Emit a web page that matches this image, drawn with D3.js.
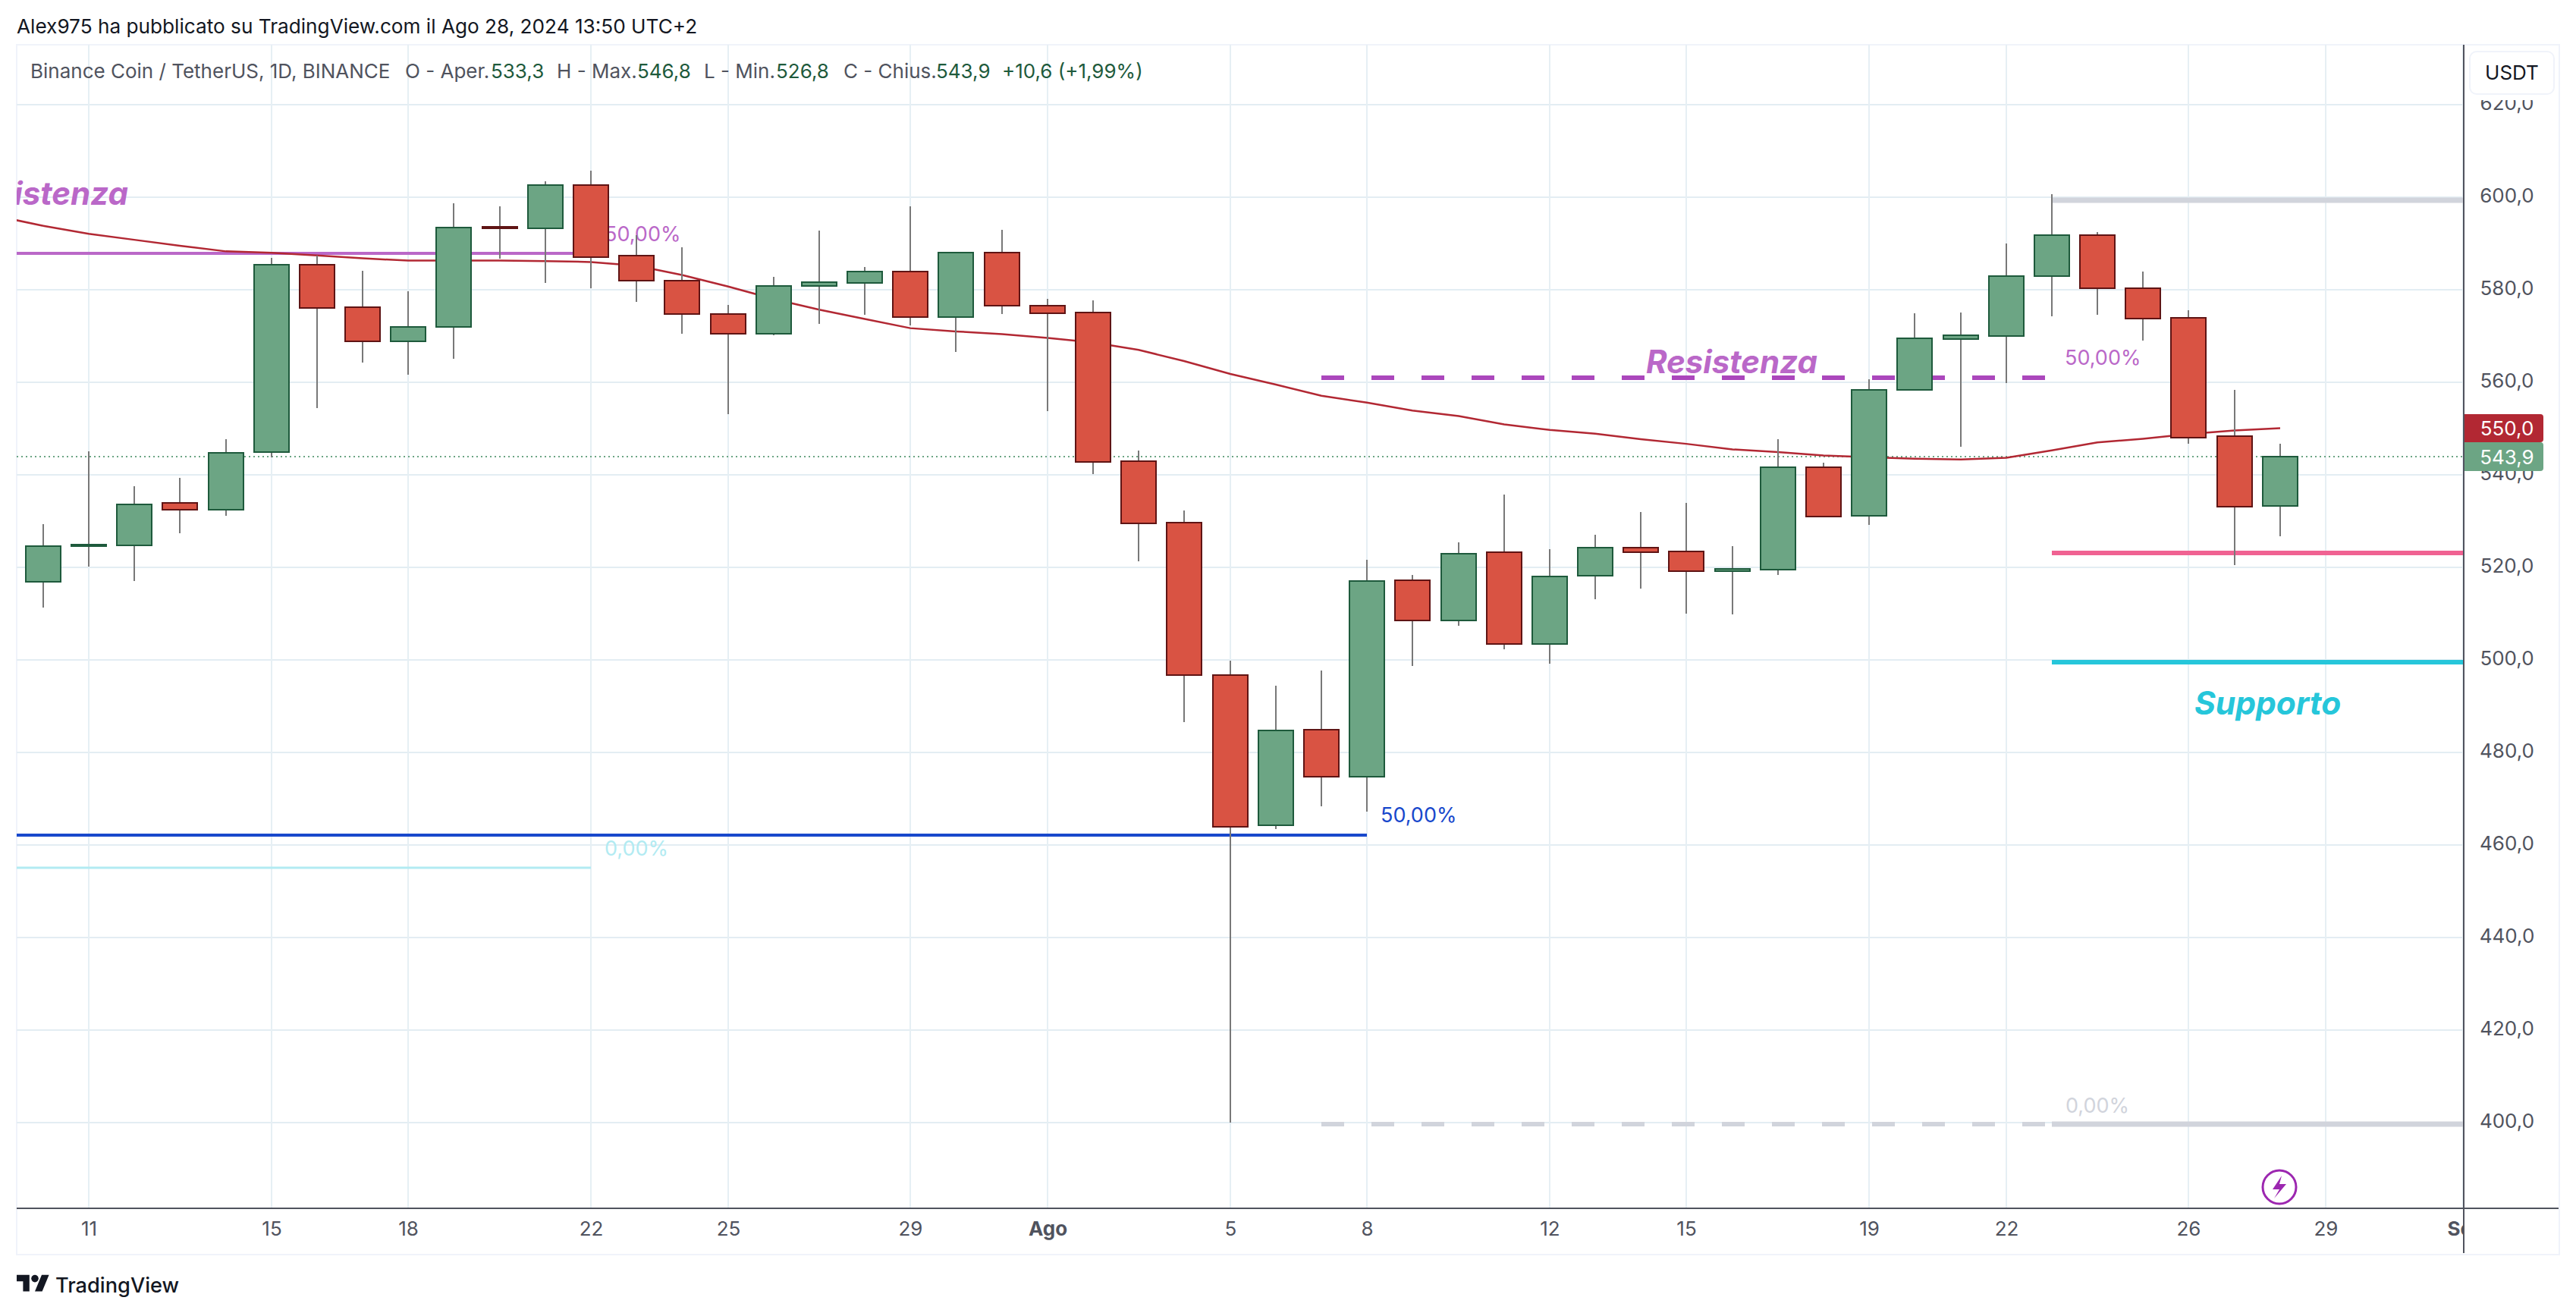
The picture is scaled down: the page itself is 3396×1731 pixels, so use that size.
<!DOCTYPE html>
<html>
<head>
<meta charset="utf-8">
<script src="https://cdn.jsdelivr.net/npm/d3@7"></script>
<style>
  html, body { margin: 0; padding: 0; background: #fff; }
  svg { display: block; }
  text { font-family: Inter, "Noto Sans", sans-serif; }
</style>
</head>
<body>
<div id="chart-area"></div>
<script>
// BNB/USDT daily candles, Jul 10 - Aug 28 2024
const opens = [516.9, 524.6, 524.8, 533.9, 532.4, 544.9, 585.4, 576.3, 568.9, 571.9,
    593.6, 593.2, 602.6, 587.3, 581.9, 574.8, 570.5, 580.9, 581.5, 583.9,
    574.1, 588.1, 576.5, 575.1, 542.9, 529.6, 496.8, 464.2, 484.9, 474.8,
    517.2, 508.6, 523.2, 503.4, 518.2, 524.2, 523.4, 519.1, 519.5, 541.6,
    531.2, 558.4, 569.4, 570.0, 583.0, 591.8, 580.4, 573.9, 548.3, 533.3];
const highs = [529.3, 545.1, 537.6, 539.3, 547.7, 586.9, 587.4, 584.1, 579.7, 598.7,
    598.0, 603.4, 605.7, 591.8, 589.2, 576.8, 582.8, 592.8, 584.9, 598.0,
    588.2, 593.0, 578.0, 577.7, 545.2, 532.3, 499.8, 494.4, 497.7, 521.6,
    518.4, 525.4, 535.7, 523.9, 527.0, 532.0, 533.9, 524.6, 547.7, 542.6,
    560.7, 574.9, 575.1, 590.0, 600.7, 592.5, 583.9, 575.6, 558.4, 546.8];
const lows = [511.3, 520.2, 517.0, 527.3, 531.2, 543.8, 554.4, 564.3, 561.7, 565.1,
    586.8, 581.5, 580.3, 577.3, 570.5, 553.1, 570.2, 572.7, 574.6, 572.3,
    566.6, 574.8, 553.8, 540.2, 521.3, 486.6, 400.0, 463.5, 468.3, 467.2,
    498.7, 507.3, 502.3, 499.2, 513.1, 515.4, 510.0, 509.8, 518.3, 530.8,
    529.2, 558.2, 546.1, 559.8, 574.3, 574.6, 569.0, 546.7, 520.5, 526.8];
const closes = [524.6, 524.9, 533.6, 532.4, 544.7, 585.4, 576.1, 568.9, 571.9, 593.4,
    593.3, 602.6, 587.1, 581.9, 574.8, 570.5, 580.9, 581.6, 583.9, 574.1,
    588.1, 576.5, 575.0, 542.8, 529.5, 496.8, 464.0, 484.7, 474.8, 517.0,
    508.6, 523.0, 503.4, 518.1, 524.2, 523.3, 519.1, 519.7, 541.6, 531.0,
    558.3, 569.5, 570.1, 582.9, 591.8, 580.4, 573.8, 548.1, 533.1, 543.9];
const movingAvg = [593.8, 592.1, 590.8, 589.5, 588.3, 588.0, 587.4, 586.8, 586.3, 586.3,
    586.3, 586.2, 586.0, 585.2, 583.2, 580.7, 578.0, 575.7, 573.7, 571.7,
    571.0, 570.4, 569.6, 568.6, 567.0, 564.6, 561.8, 559.5, 557.1, 555.6,
    553.9, 552.7, 550.9, 549.7, 548.9, 547.7, 546.7, 545.5, 544.9, 544.2,
    543.8, 543.5, 543.3, 543.7, 545.3, 547.0, 547.8, 548.8, 549.6, 550.1];

const priceTicks = [620, 600, 580, 560, 540, 520, 500, 480, 460, 440, 420, 400];
const timeTicks = ["2024-07-11", "2024-07-15", "2024-07-18", "2024-07-22", "2024-07-25", "2024-07-29",
    "2024-08-01", "2024-08-05", "2024-08-08", "2024-08-12", "2024-08-15", "2024-08-19",
    "2024-08-22", "2024-08-26", "2024-08-29", "2024-09-01"];
const timeLabels = ["11", "15", "18", "22", "25", "29", "Ago", "5", "8", "12", "15", "19", "22", "26", "29", "Set"];

const dates = d3.utcDay.range(new Date("2024-07-10"), new Date("2024-08-29"));
const parseDay = d3.utcParse("%Y-%m-%d");

const width = 3396, height = 1731;
const plot = {left: 22, right: 3247, top: 59, bottom: 1592};

const x = d3.scaleUtc()
    .domain([parseDay("2024-07-11"), parseDay("2024-08-29")])
    .range([117, 3066])
    .interpolate(d3.interpolateRound);
const y = d3.scaleLinear()
    .domain([620, 400])
    .range([138, 1480]);
const yr = function(v){ return Math.round(y(v)); };

const candleWidth = 46;
const green = "#6ca584", greenDark = "#1e5a3c";
const red = "#d95343", redDark = "#5f1414";
const purple = "#ba68c8", textGrey = "#50535e";
const commaFmt = function(v){ return d3.format(".1f")(v).replace(".", ","); };

const svg = d3.select("#chart-area")
    .append("svg")
        .attr("width", width)
        .attr("height", height)
        .attr("viewBox", "0 0 " + width + " " + height);

svg.append("defs").append("clipPath").attr("id", "plot-clip")
    .append("rect")
        .attr("x", plot.left)
        .attr("y", plot.top)
        .attr("width", plot.right - plot.left)
        .attr("height", plot.bottom - plot.top);
svg.select("defs").append("clipPath").attr("id", "axis-clip")
    .append("rect")
        .attr("x", 0)
        .attr("y", plot.bottom)
        .attr("width", plot.right)
        .attr("height", 62);

// page title
svg.append("text")
    .attr("x", 22).attr("y", 44)
    .attr("font-size", 26.2)
    .attr("fill", "#131722")
    .text("Alex975 ha pubblicato su TradingView.com il Ago 28, 2024 13:50 UTC+2");

// outer frame
svg.append("rect")
    .attr("x", 22).attr("y", 59)
    .attr("width", 3352).attr("height", 1595)
    .attr("fill", "none")
    .attr("stroke", "#f0f3fa")
    .attr("stroke-width", 2);

// gridlines
const grid = svg.append("g").attr("clip-path", "url(#plot-clip)");
grid.selectAll("line.h").data(priceTicks).enter().append("line")
    .attr("class", "h")
    .attr("x1", plot.left).attr("x2", plot.right)
    .attr("y1", function(d){ return yr(d); })
    .attr("y2", function(d){ return yr(d); })
    .attr("stroke", "#e3edf3")
    .attr("stroke-width", 2);
grid.selectAll("line.v").data(timeTicks).enter().append("line")
    .attr("class", "v")
    .attr("x1", function(d){ return x(parseDay(d)); })
    .attr("x2", function(d){ return x(parseDay(d)); })
    .attr("y1", plot.top).attr("y2", plot.bottom)
    .attr("stroke", "#e6eff4")
    .attr("stroke-width", 2);

const plotG = svg.append("g").attr("clip-path", "url(#plot-clip)");

function level(value, from, to, color, w, dash) {
    plotG.append("line")
        .attr("x1", from).attr("x2", to)
        .attr("y1", yr(value)).attr("y2", yr(value))
        .attr("stroke", color)
        .attr("stroke-width", w)
        .attr("stroke-dasharray", dash || null);
}
function note(txt, px, py, color, size, weight, italic) {
    plotG.append("text")
        .attr("x", px).attr("y", py)
        .attr("font-size", size)
        .attr("font-weight", weight || 400)
        .attr("font-style", italic ? "italic" : "normal")
        .attr("fill", color)
        .text(txt);
}
const xd = function(s){ return x(parseDay(s)); };

// hand drawn levels, they all sit under the candles
level(587.9, plot.left, xd("2024-07-22"), purple, 4);
level(462.1, plot.left, xd("2024-08-08"), "#1848cc", 4);
level(455.1, plot.left, xd("2024-07-22"), "#b2ebf2", 3);
level(561, xd("2024-08-07"), xd("2024-08-23"), "#ab47bc", 6, "30 36");
level(399.7, xd("2024-08-07"), xd("2024-08-23"), "#d1d4dc", 6, "30 36");
level(399.7, xd("2024-08-23"), plot.right, "#d1d4dc", 7);
level(599.4, xd("2024-08-23"), plot.right, "#d1d4dc", 7);
level(523.1, xd("2024-08-23"), plot.right, "#f06292", 6);
level(499.5, xd("2024-08-23"), plot.right, "#26c6da", 6);

note("50,00%", 797, 318, purple, 27);
note("50,00%", 2722, 481, purple, 27);
note("50,00%", 1820, 1084, "#1848cc", 27);
note("0,00%", 797, 1128, "#b2ebf2", 27);
note("0,00%", 2723, 1467, "#d1d4dc", 27);
note("Resistenza", -57, 270, purple, 42, 700, true);
note("Resistenza", 2170, 492, purple, 42, 700, true);
note("Supporto", 2893, 942, "#26c6da", 42.5, 700, true);

// last price dotted line
plotG.append("line")
    .attr("x1", plot.left).attr("x2", plot.right)
    .attr("y1", yr(543.9)).attr("y2", yr(543.9))
    .attr("stroke", green)
    .attr("stroke-width", 2)
    .attr("stroke-dasharray", "2 4");

// moving average
const maLine = d3.line()
    .x(function(d, i){ return x(dates[i]); })
    .y(function(d){ return y(d); });
plotG.append("path")
    .datum(movingAvg)
    .attr("d", maLine)
    .attr("fill", "none")
    .attr("stroke", "#b22833")
    .attr("stroke-width", 2.5);
// the line runs on past the left edge of the plot
plotG.append("line")
    .attr("x1", x(dates[0]) - 60.2).attr("x2", x(dates[0]))
    .attr("y1", y(595.9)).attr("y2", y(movingAvg[0]))
    .attr("stroke", "#b22833")
    .attr("stroke-width", 2.5);

// candles
const candles = plotG.selectAll("g.candle").data(dates).enter().append("g")
    .attr("class", "candle");
candles.append("line")
    .attr("x1", function(d){ return x(d); })
    .attr("x2", function(d){ return x(d); })
    .attr("y1", function(d, i){ return yr(highs[i]); })
    .attr("y2", function(d, i){ return yr(lows[i]); })
    .attr("stroke", "#787878")
    .attr("stroke-width", 2);
candles.append("rect")
    .attr("x", function(d){ return x(d) - candleWidth / 2; })
    .attr("y", function(d, i){ return yr(Math.max(opens[i], closes[i])); })
    .attr("width", candleWidth)
    .attr("height", function(d, i){ return Math.abs(yr(opens[i]) - yr(closes[i])); })
    .attr("fill", function(d, i){ return closes[i] >= opens[i] ? green : red; })
    .attr("stroke", function(d, i){ return closes[i] >= opens[i] ? greenDark : redDark; })
    .attr("stroke-width", 2);

// alert bolt on the last bar
const bolt = svg.append("g").attr("transform", "translate(3005,1565)");
bolt.append("circle")
    .attr("r", 22)
    .attr("fill", "#fff")
    .attr("stroke", "#9c27b0")
    .attr("stroke-width", 3);
bolt.append("path")
    .attr("d", "M3,-15 L-9,3 L0,3 L-7,15 L9,-4 L0,-4 Z")
    .attr("fill", "#9c27b0");

// price axis
const yAxisCall = d3.axisRight(y)
    .tickValues(priceTicks)
    .tickSize(0)
    .tickPadding(0)
    .tickFormat(commaFmt);
const yAxisG = svg.append("g")
    .attr("transform", "translate(3305,-1.5)")
    .call(yAxisCall);
yAxisG.select(".domain").remove();
yAxisG.selectAll("text")
    .attr("text-anchor", "middle")
    .attr("font-size", 26)
    .attr("font-family", "Inter")
    .attr("fill", textGrey);

// time axis
const xAxisCall = d3.axisBottom(x)
    .tickValues(timeTicks.map(parseDay))
    .tickSize(0)
    .tickPadding(0)
    .tickFormat(function(d, i){ return timeLabels[i]; });
const xAxisG = svg.append("g")
    .attr("clip-path", "url(#axis-clip)")
    .append("g")
    .attr("transform", "translate(0,1611)")
    .call(xAxisCall);
xAxisG.select(".domain").remove();
xAxisG.selectAll("text")
    .attr("font-size", 26)
    .attr("font-family", "Inter")
    .attr("font-weight", function(d, i){ return (timeLabels[i] === "Ago" || timeLabels[i] === "Set") ? 700 : 400; })
    .attr("fill", textGrey);

// axis borders
svg.append("line")
    .attr("x1", plot.left).attr("x2", 3373)
    .attr("y1", plot.bottom + 1).attr("y2", plot.bottom + 1)
    .attr("stroke", "#50535e")
    .attr("stroke-width", 2);
svg.append("line")
    .attr("x1", plot.right + 1).attr("x2", plot.right + 1)
    .attr("y1", plot.top).attr("y2", 1652)
    .attr("stroke", "#50535e")
    .attr("stroke-width", 2);

// currency button, it hides the top of the 620 label
svg.append("rect")
    .attr("x", 3250).attr("y", 61)
    .attr("width", 122).attr("height", 71)
    .attr("fill", "#fff");
svg.append("rect")
    .attr("x", 3256).attr("y", 68)
    .attr("width", 111).attr("height", 56)
    .attr("rx", 9)
    .attr("fill", "#fff")
    .attr("stroke", "#f0f3fa")
    .attr("stroke-width", 2);
svg.append("text")
    .attr("x", 3311.5).attr("y", 105)
    .attr("text-anchor", "middle")
    .attr("font-size", 26)
    .attr("fill", "#131722")
    .text("USDT");

// price badges
function badge(value, top, bottom, color) {
    svg.append("path")
        .attr("d", "M3249," + top + " H3349 Q3353," + top + " 3353," + (top + 4) +
            " V" + (bottom - 4) + " Q3353," + bottom + " 3349," + bottom + " H3249 Z")
        .attr("fill", color);
    svg.append("text")
        .attr("x", 3305).attr("y", (top + bottom) / 2 + 9.5)
        .attr("text-anchor", "middle")
        .attr("font-size", 26)
        .attr("fill", "#fff")
        .text(commaFmt(value));
}
badge(550, 546, 583, "#b22833");
badge(543.9, 583, 621, green);

// legend line
const legendParts = [
    ["Binance Coin / TetherUS, 1D, BINANCE", 40, textGrey],
    ["O - Aper.", 534, textGrey], ["533,3", 647, greenDark],
    ["H - Max.", 734, textGrey], ["546,8", 840, greenDark],
    ["L - Min.", 928, textGrey], ["526,8", 1023, greenDark],
    ["C - Chius.", 1112, textGrey], ["543,9", 1234, greenDark],
    ["+10,6 (+1,99%)", 1321, greenDark]
];
svg.append("g").selectAll("text").data(legendParts).enter().append("text")
    .attr("x", function(d){ return d[1]; })
    .attr("y", 103)
    .attr("font-size", 26)
    .attr("fill", function(d){ return d[2]; })
    .text(function(d){ return d[0]; });

// footer logo
const logo = svg.append("g").attr("transform", "translate(22,1676) scale(1.2)");
logo.append("path")
    .attr("d", "M14 22H7V11H0V4h14v18zM28 22h-8l7.5-18h8L28 22z")
    .attr("fill", "#131722");
logo.append("circle")
    .attr("cx", 20).attr("cy", 8).attr("r", 4)
    .attr("fill", "#131722");
svg.append("text")
    .attr("x", 73).attr("y", 1704)
    .attr("font-size", 27.2)
    .attr("font-weight", 500)
    .attr("fill", "#131722")
    .text("TradingView");
</script>
</body>
</html>
